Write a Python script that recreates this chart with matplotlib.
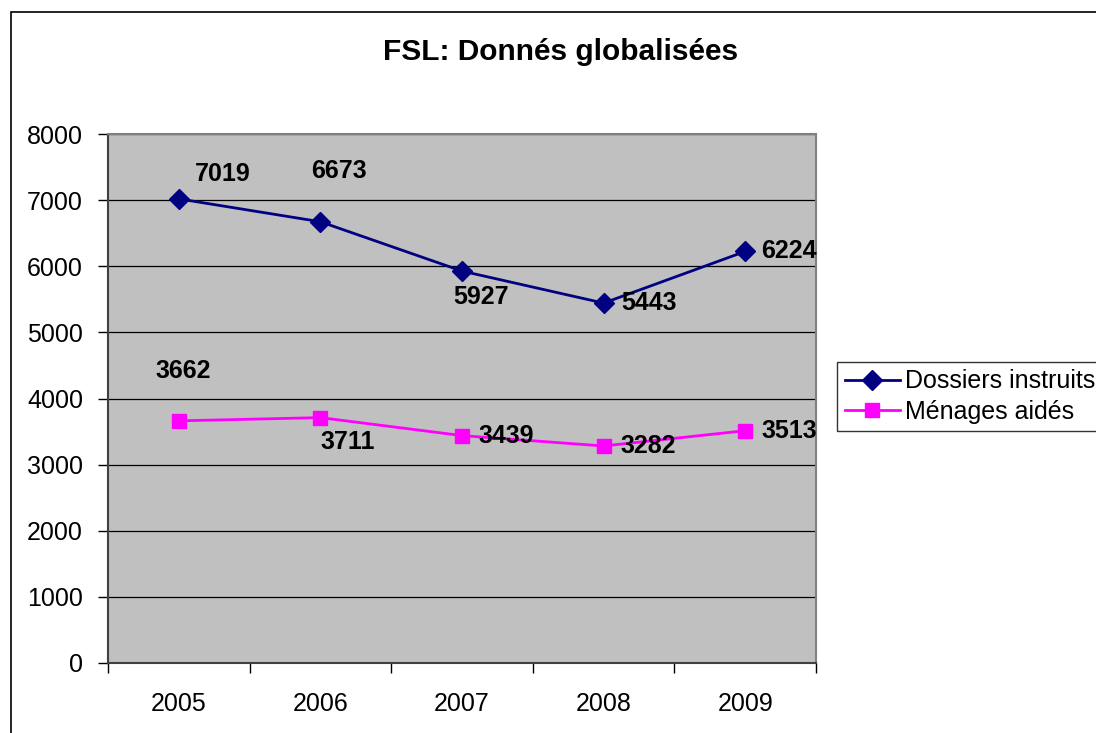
import matplotlib.pyplot as plt
import numpy as np
from matplotlib.patches import Rectangle
from matplotlib.lines import Line2D

years = ["2005", "2006", "2007", "2008", "2009"]
dossiers = [7019, 6673, 5927, 5443, 6224]
menages = [3662, 3711, 3439, 3282, 3513]

# label offsets in pixels (dx, dy)
dossiers_off = [(44, 25), (19, 51), (19, -26), (45, 0), (44, 0)]
menages_off = [(4, 50), (27, -24), (44, 0), (45, 0), (44, 0)]

plt.rcParams["font.family"] = ["Liberation Sans", "DejaVu Sans"]

fig = plt.figure(figsize=(10.96, 7.33), dpi=100)
ax = fig.add_axes([108 / 1096, 1 - 663 / 733, 708 / 1096, 529 / 733])

# outer chart border (right/bottom run off the picture)
fig.patches.append(Rectangle((11 / 1096, -0.1), 1.2, 1 - 12 / 733 + 0.1,
                             transform=fig.transFigure, fill=False,
                             edgecolor="black", linewidth=1.2, zorder=0))

ax.set_facecolor("#C0C0C0")
x = np.arange(len(years))

ax.plot(x, dossiers, color="#000080", linewidth=2, marker="D",
        markersize=10, label="Dossiers instruits", zorder=3)
ax.plot(x, menages, color="#FF00FF", linewidth=2, marker="s",
        markersize=10.5, label="Ménages aidés", zorder=3)

for xi, v, (dx, dy) in zip(x, dossiers, dossiers_off):
    ax.annotate(str(v), (xi, v), xytext=(dx, dy), textcoords="offset pixels",
                ha="center", va="center", fontsize=18, fontweight="bold")
for xi, v, (dx, dy) in zip(x, menages, menages_off):
    ax.annotate(str(v), (xi, v), xytext=(dx, dy), textcoords="offset pixels",
                ha="center", va="center", fontsize=18, fontweight="bold")

ax.set_ylim(0, 8000)
ax.set_yticks(np.arange(0, 8001, 1000))
ax.set_xlim(-0.5, 4.5)
ax.set_xticks(x)
ax.set_xticklabels(years)
ax.set_xticks(np.arange(-0.5, 4.6, 1), minor=True)
ax.tick_params(axis="x", which="major", length=0, pad=21, labelsize=18)
ax.tick_params(axis="x", which="minor", length=7, width=1, direction="out")
ax.tick_params(axis="y", length=7, width=1, direction="out", pad=11, labelsize=18)

ax.yaxis.grid(True, color="black", linewidth=0.9)
ax.set_axisbelow(True)
for s in ["top", "right"]:
    ax.spines[s].set_color("#808080")
    ax.spines[s].set_linewidth(1.5)
for s in ["left", "bottom"]:
    ax.spines[s].set_color("#404040")
    ax.spines[s].set_linewidth(1.5)

fig.text(561 / 1096, 1 - 52 / 733, "FSL: Donnés globalisées", ha="center",
         va="center", fontsize=21.5, fontweight="bold")

handles = [Line2D([], [], color="#000080", linewidth=2, marker="D", markersize=10),
           Line2D([], [], color="#FF00FF", linewidth=2, marker="s", markersize=10.5)]
leg = fig.legend(handles, ["Dossiers instruits", "Ménages aidés"],
                 loc="upper left", bbox_to_anchor=(837 / 1096, 1 - 362 / 733),
                 fontsize=18, frameon=True, fancybox=False, borderpad=0.3,
                 handlelength=2.2, handletextpad=0.2, labelspacing=0.25,
                 borderaxespad=0)
leg.get_frame().set_edgecolor("black")
leg.get_frame().set_linewidth(1)

fig.savefig("out.png", dpi=100)
